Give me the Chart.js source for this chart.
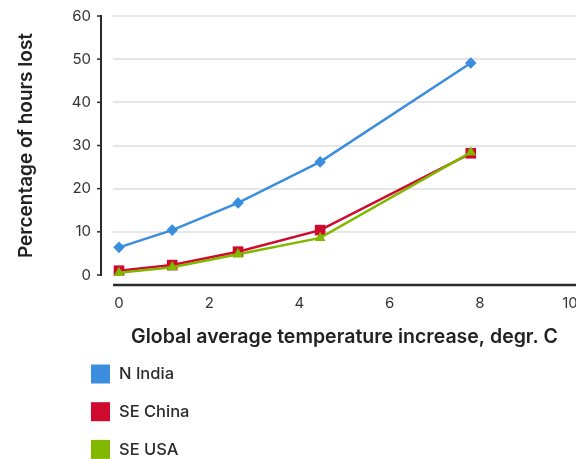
<!DOCTYPE html>
<html>
<head>
<meta charset="utf-8">
<script src="https://cdn.jsdelivr.net/npm/chart.js@4/dist/chart.umd.min.js"></script>
<style>
  html, body { margin: 0; padding: 0; background: #ffffff; }
  #wrap { width: 576px; height: 459px; position: relative; }
</style>
</head>
<body>
<div id="wrap"><canvas id="c" width="576" height="459"></canvas></div>
<script>
const temps = [0, 1.18, 2.64, 4.46, 7.8];
const seriesNames = ['N India', 'SE China', 'SE USA'];
const nIndia = [6.4, 10.4, 16.7, 26.2, 49.1];
const seChina = [1.0, 2.3, 5.4, 10.4, 28.2];
const seUSA = [0.5, 1.8, 4.8, 8.6, 28.4];
const xTicks = [0, 2, 4, 6, 8, 10];
const yTicks = [0, 10, 20, 30, 40, 50, 60];
const colors = ['#3b8ede', '#d0092f', '#80b800'];

const FONT = 'Inter, "Open Sans", sans-serif';
const toPts = vals => vals.map((v, i) => ({ x: temps[i], y: v }));

const axisAndLegend = {
  id: 'axisAndLegend',
  afterDraw(chart) {
    const { ctx, chartArea, scales: { y } } = chart;
    ctx.save();
    ctx.strokeStyle = '#2a2a2a';
    const ax = chartArea.left - 12;
    ctx.lineWidth = 2;
    ctx.beginPath();
    ctx.moveTo(ax, y.getPixelForValue(yTicks[yTicks.length - 1]) - 1);
    ctx.lineTo(ax, y.getPixelForValue(yTicks[0]) + 1);
    ctx.stroke();
    ctx.lineWidth = 1.5;
    yTicks.forEach(v => {
      const py = y.getPixelForValue(v);
      ctx.beginPath();
      ctx.moveTo(ax - 4, py);
      ctx.lineTo(ax, py);
      ctx.stroke();
    });
    const by = chartArea.bottom + 10;
    ctx.lineWidth = 2.5;
    ctx.beginPath();
    ctx.moveTo(chartArea.left, by);
    ctx.lineTo(chartArea.right, by);
    ctx.stroke();
    ctx.font = '500 16.5px ' + FONT;
    ctx.textBaseline = 'middle';
    ctx.textAlign = 'left';
    chart.data.datasets.forEach((ds, i) => {
      const cy = 374 + i * 37.7;
      ctx.fillStyle = ds.borderColor;
      ctx.fillRect(91, cy - 9.5, 19, 19);
      ctx.fillStyle = '#2b2b2b';
      ctx.fillText(ds.label, 119, cy + 0.5);
    });
    ctx.restore();
  }
};

const mk = (i, vals, style, r, order) => ({
  label: seriesNames[i],
  data: toPts(vals),
  borderColor: colors[i],
  backgroundColor: colors[i],
  pointBackgroundColor: colors[i],
  pointBorderColor: colors[i],
  pointStyle: style,
  pointRadius: r,
  pointBorderWidth: 0,
  borderWidth: 2.5,
  tension: 0,
  clip: false,
  order: order
});

new Chart(document.getElementById('c'), {
  type: 'line',
  data: {
    datasets: [
      mk(0, nIndia, 'rectRot', 5.8, 3),
      mk(1, seChina, 'rect', 7.5, 2),
      mk(2, seUSA, 'triangle', 6.2, 1)
    ]
  },
  options: {
    responsive: false,
    animation: false,
    layout: { autoPadding: false, padding: { top: 16, right: 0, bottom: 109, left: 0 } },
    plugins: { legend: { display: false }, tooltip: { enabled: false } },
    scales: {
      x: {
        type: 'linear',
        min: -0.133,
        max: 10.133,
        afterBuildTicks: s => { s.ticks = xTicks.map(v => ({ value: v })); },
        ticks: { includeBounds: false, padding: 19, color: '#333', font: { family: FONT, size: 15 } },
        grid: { display: false, drawTicks: false },
        border: { display: false },
        title: {
          display: true,
          text: 'Global average temperature increase, degr. C',
          color: '#222',
          font: { family: FONT, size: 19.5, weight: '600' },
          padding: { top: 0, bottom: 1 }
        },
        afterFit: s => { s.height = 75; s.paddingLeft = 0; s.paddingRight = 0; }
      },
      y: {
        type: 'linear',
        min: 0,
        max: 60,
        afterBuildTicks: s => { s.ticks = yTicks.map(v => ({ value: v })); },
        ticks: { includeBounds: false, padding: 22, color: '#333', font: { family: FONT, size: 15 } },
        grid: {
          drawTicks: false,
          lineWidth: 2,
          color: c => (c.tick && c.tick.value === 0) ? 'rgba(0,0,0,0)' : '#e6e6e6'
        },
        border: { display: false },
        title: {
          display: true,
          text: 'Percentage of hours lost',
          color: '#222',
          font: { family: FONT, size: 19, weight: '600' },
          padding: { top: 14.5, bottom: 0 }
        },
        afterFit: s => { s.width = 113; s.paddingTop = 0; s.paddingBottom = 0; }
      }
    }
  },
  plugins: [axisAndLegend]
});
</script>
</body>
</html>
